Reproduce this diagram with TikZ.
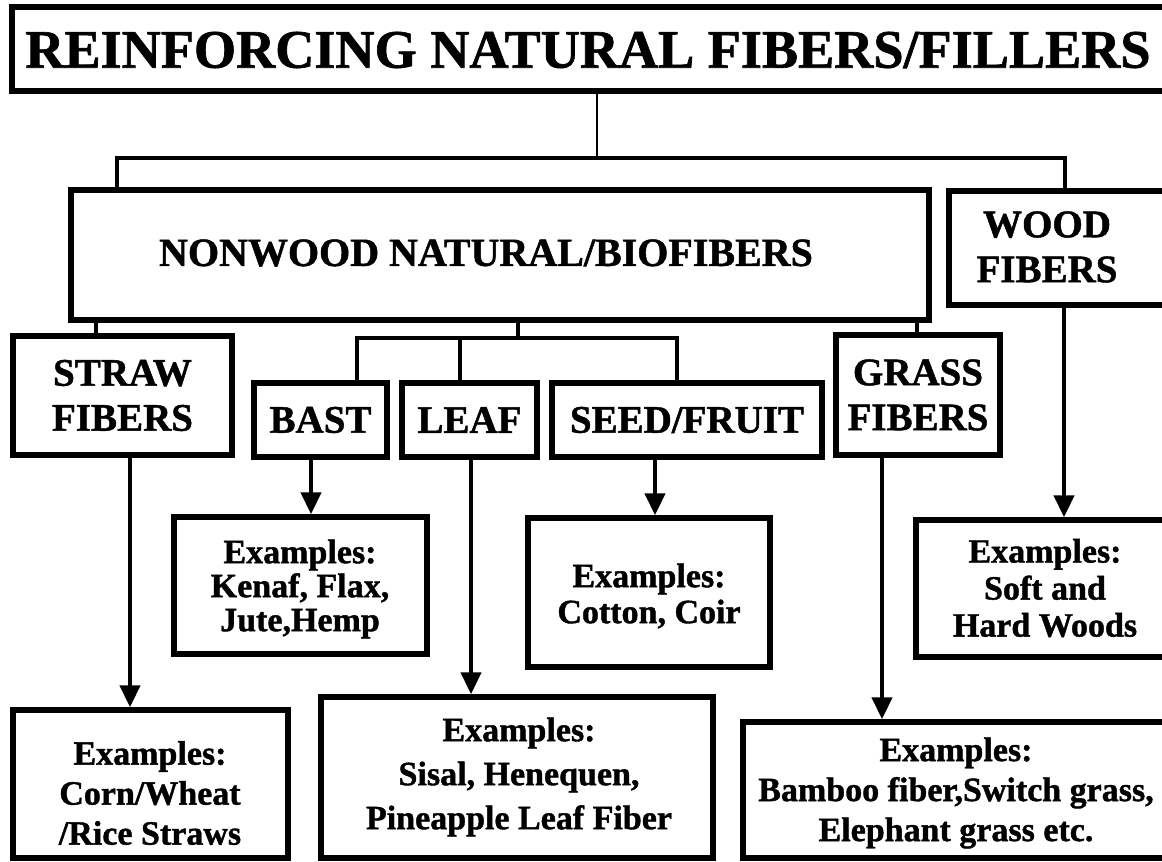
\documentclass[tikz,border=0pt]{standalone}
\usepackage{fontspec}
\setmainfont{Liberation Serif}[BoldFeatures={FakeBold=1.2}]
\usetikzlibrary{arrows.meta}
\begin{document}
\begin{tikzpicture}[x=1pt,y=-1pt,
  box/.style={draw,line width=5.5pt,inner sep=0pt,align=center},
  txt/.style={inner sep=0pt,align=center},
  fttl/.style={font=\fontsize{54.2}{60}\selectfont\bfseries},
  fnw/.style={font=\fontsize{40}{44}\selectfont\bfseries},
  fgrp/.style={font=\fontsize{39}{45}\selectfont\bfseries},
  fex/.style={font=\fontsize{34}{#1}\selectfont\bfseries},
  conn/.style={line width=4.5pt},
  thinconn/.style={line width=2.5pt},
  arr/.style={line width=4.5pt,-{Triangle[width=20pt,length=22pt]}}
]
\useasboundingbox (0,0) rectangle (1162,862);
\clip (0,0) rectangle (1162,862);
\def\mkbox#1#2#3#4#5#6#7{\node[box,#7,minimum width={#4-#2},minimum height={#5-#3}] (#1) at ({(#2+#4)/2},{(#3+#5)/2}) {#6};}
% boxes
\mkbox{title}{12}{7}{1190}{91}{}{}
\node[txt,fttl] (titletxt) at (588,50) {REINFORCING NATURAL FIBERS/FILLERS};
\mkbox{nonwood}{71}{190}{929}{320}{}{}
\node[txt,fnw] (nonwoodtxt) at (486,253) {NONWOOD NATURAL/BIOFIBERS};
\mkbox{wood}{949}{191}{1190}{305}{}{}
\node[txt,fgrp] (woodtxt) at (1047,247) {WOOD\\FIBERS};
\mkbox{straw}{13}{336}{232}{455}{STRAW\\FIBERS}{fgrp}
\mkbox{bast}{254}{383}{387}{457}{BAST}{fgrp}
\mkbox{leaf}{402}{383}{537}{457}{LEAF}{fgrp}
\mkbox{seed}{552}{383}{822}{457}{SEED/FRUIT}{fgrp}
\mkbox{grass}{836}{335}{1000}{455}{GRASS\\FIBERS}{fgrp}
\mkbox{bastex}{174}{517}{427}{654}{}{}
\node[txt,fex=34] (bastextxt) at (300,589) {Examples:\\Kenaf, Flax,\\Jute,Hemp};
\mkbox{seedex}{528}{518}{770}{667}{}{}
\node[txt,fex=36] (seedextxt) at (649,596) {Examples:\\Cotton, Coir};
\mkbox{woodex}{916}{520}{1190}{657}{}{}
\node[txt,fex=37] (woodextxt) at (1045,588) {Examples:\\Soft and\\Hard Woods};
\mkbox{strawex}{13}{710}{288}{858}{}{}
\node[txt,fex=40] (strawextxt) at (150,793) {Examples:\\Corn/Wheat\\/Rice Straws};
\mkbox{leafex}{321}{697}{713}{858}{}{}
\node[txt,fex=44] (leafextxt) at (519,777) {Examples:\\Sisal, Henequen,\\Pineapple Leaf Fiber};
\mkbox{grassex}{743}{722}{1190}{858}{}{}
\node[txt,fex=40] (grassextxt) at (956,793) {Examples:\\Bamboo fiber,Switch grass,\\Elephant grass etc.};
% tree connectors
\coordinate (tb) at (597,158);
\coordinate (bl) at (117,158);
\coordinate (br) at (1065,158);
\draw[thinconn] (title.south -| tb) -- (tb);
\draw[conn] (nonwood.north -| bl) -- (bl) -- (br) -- (wood.north -| br);
\coordinate (sx) at (96,0);
\draw[conn] (nonwood.south -| sx) -- (straw.north -| sx);
\coordinate (m1) at (518,338);
\coordinate (mL) at (357,338);
\coordinate (mM) at (460,338);
\coordinate (mR) at (677,338);
\draw[conn] (nonwood.south -| m1) -- (m1);
\draw[conn] (bast.north -| mL) -- (mL) -- (mR) -- (seed.north -| mR);
\draw[conn] (mM) -- (leaf.north -| mM);
\coordinate (gx) at (917,0);
\draw[conn] (nonwood.south -| gx) -- (grass.north -| gx);
% arrows
\coordinate (a1) at (311,0);
\coordinate (a2) at (471,0);
\coordinate (a3) at (655,0);
\coordinate (a4) at (130,0);
\coordinate (a5) at (882,0);
\coordinate (a6) at (1064,0);
\draw[arr] (bast.south -| a1) -- (bastex.north -| a1);
\draw[arr] (leaf.south -| a2) -- (leafex.north -| a2);
\draw[arr] (seed.south -| a3) -- (seedex.north -| a3);
\draw[arr] (straw.south -| a4) -- (strawex.north -| a4);
\draw[arr] (grass.south -| a5) -- (grassex.north -| a5);
\draw[arr] (wood.south -| a6) -- (woodex.north -| a6);
\end{tikzpicture}
\end{document}
